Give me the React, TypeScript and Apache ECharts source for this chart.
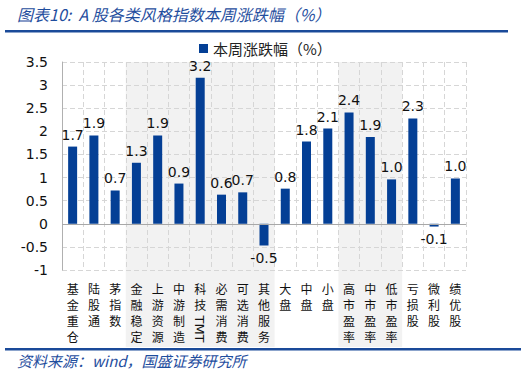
import React, { useEffect, useRef } from "react";
import * as echarts from "echarts";

const categories = ["基金重仓", "陆股通", "茅指数", "金融稳定", "上游资源", "中游制造", "科技TMT", "必需消费", "可选消费", "其他服务", "大盘", "中盘", "小盘", "高市盈率", "中市盈率", "低市盈率", "亏损股", "微利股", "绩优股"];
const values = [1.67, 1.91, 0.72, 1.32, 1.91, 0.87, 3.16, 0.63, 0.68, -0.47, 0.76, 1.78, 2.06, 2.41, 1.88, 0.96, 2.28, -0.06, 0.98];
const seriesName = "本周涨跌幅（%）";
const bandRanges = [[3, 9], [13, 15]];
const yMin = -1;
const yMax = 3.5;
const yInterval = 0.5;

const BLUE = "#1F4E9E";
const BAR = "#043F95";
const CJK = "'Noto Sans CJK SC', sans-serif";
const NUM = "'DejaVu Sans', sans-serif";

export default function App() {
  const ref = useRef<HTMLDivElement>(null);
  useEffect(() => {
    document.body.style.margin = "0";
    const chart = echarts.init(ref.current!, null, { renderer: "svg" });
    const option: any = {
      animation: false,
      backgroundColor: "#ffffff",
      legend: {
        data: [seriesName],
        left: 194,
        top: 36,
        icon: "rect",
        itemWidth: 9,
        itemHeight: 9,
        itemGap: 4,
        textStyle: { fontFamily: CJK, fontSize: 15, color: "#222" },
      },
      grid: { left: 62, right: 60, top: 62, bottom: 103, containLabel: false },
      xAxis: {
        type: "category",
        data: categories,
        boundaryGap: true,
        axisLine: { show: false },
        axisTick: { show: false },
        splitLine: { show: true, interval: 0, lineStyle: { type: [5, 3], color: "#D6D6D6", width: 1 } },
        axisLabel: {
          interval: 0,
          margin: 10,
          fontFamily: CJK,
          fontSize: 12,
          lineHeight: 16,
          color: "#111",
          verticalAlign: "top",
          formatter: (v: string) => {
            const s = v === "科技TMT" ? "科技" : v;
            return s.split("").join("\n");
          },
        },
      },
      yAxis: {
        type: "value",
        min: yMin,
        max: yMax,
        interval: yInterval,
        axisLine: { show: true, lineStyle: { color: "#B0B0B0", width: 1 } },
        axisTick: { show: false },
        splitLine: { show: true, lineStyle: { type: [5, 3], color: "#D6D6D6", width: 1 } },
        axisLabel: {
          margin: 14,
          fontFamily: NUM,
          fontSize: 14,
          color: "#111",
          formatter: (v: number) => String(v),
        },
      },
      series: [
        {
          name: seriesName,
          type: "bar",
          barWidth: 9,
          itemStyle: { color: BAR },
          data: values.map((v) => ({
            value: v,
            label: { position: v >= 0 ? "top" : "bottom" },
          })),
          label: {
            show: true,
            fontFamily: NUM,
            fontSize: 14,
            color: "#111",
            distance: 5,
            formatter: (p: any) => Number(p.value).toFixed(1),
          },
          markLine: {
            silent: true,
            symbol: "none",
            label: { show: false },
            lineStyle: { type: "solid", color: "#A8A8A8", width: 1 },
            data: [{ yAxis: 0 }],
          },
        },
      ],
    };
    chart.setOption(option);

    const c0 = chart.convertToPixel({ xAxisIndex: 0 }, 0) as number;
    const c1 = chart.convertToPixel({ xAxisIndex: 0 }, 1) as number;
    const step = c1 - c0;
    const topY = chart.convertToPixel({ yAxisIndex: 0 }, yMax) as number;
    const bands = bandRanges.map(([a, b]) => {
      const xa = (chart.convertToPixel({ xAxisIndex: 0 }, a) as number) - step / 2;
      const xb = (chart.convertToPixel({ xAxisIndex: 0 }, b) as number) + step / 2;
      return {
        type: "rect",
        z: -10,
        silent: true,
        shape: { x: xa, y: topY, width: xb - xa, height: 347 - topY },
        style: { fill: "#F2F2F2" },
      };
    });
    const tmtX = chart.convertToPixel({ xAxisIndex: 0 }, categories.indexOf("科技TMT")) as number;

    chart.setOption({
      graphic: [
        ...bands,
        {
          type: "text",
          x: 17,
          y: 14,
          style: {
            text: "图表10:  A 股各类风格指数本周涨跌幅（%）",
            fontFamily: CJK,
            fontSize: 16,
            fontStyle: "italic",
            fill: BLUE,
            verticalAlign: "middle",
          },
        },
        {
          type: "rect",
          shape: { x: 5, y: 30, width: 503, height: 2.5 },
          style: { fill: "#1A4A99" },
        },
        {
          type: "text",
          x: tmtX - 1,
          y: 329,
          rotation: -Math.PI / 2,
          style: {
            text: "TMT",
            fontFamily: NUM,
            fontSize: 13,
            fill: "#111",
            align: "center",
            verticalAlign: "middle",
          },
        },
        {
          type: "rect",
          shape: { x: 5, y: 348, width: 516, height: 2.5 },
          style: { fill: "#1A4A99" },
        },
        {
          type: "text",
          x: 17,
          y: 360,
          style: {
            text: "资料来源：wind，国盛证券研究所",
            fontFamily: CJK,
            fontSize: 15,
            fontStyle: "italic",
            fill: BLUE,
            verticalAlign: "middle",
          },
        },
      ],
    });

    return () => chart.dispose();
  }, []);
  return <div ref={ref} style={{ width: 526, height: 373 }} />;
}
